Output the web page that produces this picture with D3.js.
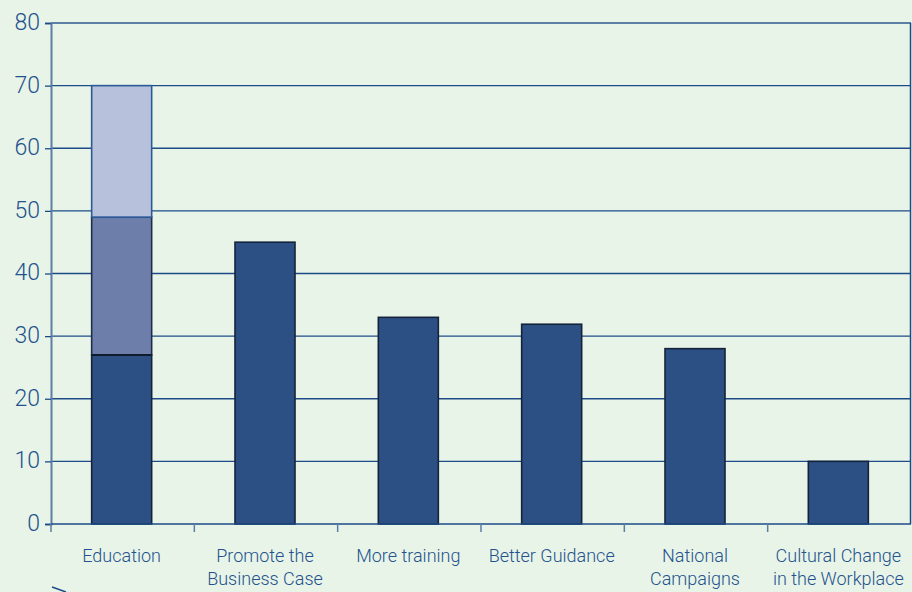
<!DOCTYPE html>
<html><head><meta charset="utf-8">
<script src="https://cdn.jsdelivr.net/npm/d3@7"></script>
<style>
html,body{margin:0;padding:0;background:#e8f4e8;}
svg{display:block;}
text{font-family:Roboto,"Liberation Sans",Arial,sans-serif;font-weight:300;fill:#24528c;}
</style></head>
<body>
<svg id="chart" width="912" height="592"></svg>
<script>
const categories = [["Education"],["Promote the","Business Case"],["More training"],["Better Guidance"],["National","Campaigns"],["Cultural Change","in the Workplace"]];
const seriesBase = [27, 45, 33, 31.9, 28, 10];
const seriesMid  = [22, 0, 0, 0, 0, 0];
const seriesTop  = [21, 0, 0, 0, 0, 0];
const yTicks = [0,10,20,30,40,50,60,70,80];

const svg = d3.select("#chart");
const m = {l:51, r:1, t:23, b:68};
const W = 912, H = 592;
const x = d3.scaleBand().domain(d3.range(categories.length)).range([m.l, W - m.r]).paddingInner(0).paddingOuter(0);
const y = d3.scaleLinear().domain([0,80]).range([H - m.b, m.t]);

// gridlines
svg.append("g").selectAll("line").data(yTicks.filter(d=>d>0)).join("line")
  .attr("x1", m.l).attr("x2", W - m.r)
  .attr("y1", d=>y(d)).attr("y2", d=>y(d))
  .attr("stroke", d=> d===80 ? "#5b7fa5" : "#1d4b88").attr("stroke-width", d=> d===80 ? 2 : 1.3);
// right border
svg.append("line").attr("x1", W-m.r-0.5).attr("x2", W-m.r-0.5).attr("y1", y(80)).attr("y2", y(0))
  .attr("stroke","#1d4b88").attr("stroke-width",1.5);

// bars
const bw = 60;
const stacks = d3.stack().keys([0,1,2]).value((d,k)=>d[k])(categories.map((c,i)=>[seriesBase[i], seriesMid[i], seriesTop[i]]));
const fills = ["#2d5084", "#6e7eab", "#b8c1dc"];
const strokes = ["#14233a", "#1e2e4a", "#2a5a98"];
stacks.forEach((layer, li) => {
  svg.append("g").selectAll("rect").data(layer.map((d,i)=>({d,i})).filter(o=>o.d[1]-o.d[0]>0)).join("rect")
    .attr("x", o => x(o.i) + x.bandwidth()/2 - bw/2 - 1)
    .attr("width", bw)
    .attr("y", o => y(o.d[1]))
    .attr("height", o => y(o.d[0]) - y(o.d[1]))
    .attr("fill", fills[li]).attr("stroke", strokes[li]).attr("stroke-width", 1.6);
});
// divider between base and mid
svg.append("g").selectAll("line").data(stacks[0].map((d,i)=>({d,i})).filter(o=>seriesMid[o.i]>0)).join("line")
  .attr("x1", o=>x(o.i)+x.bandwidth()/2-bw/2-1).attr("x2", o=>x(o.i)+x.bandwidth()/2+bw/2-1)
  .attr("y1", o=>y(o.d[1])).attr("y2", o=>y(o.d[1]))
  .attr("stroke","#0f1a2c").attr("stroke-width",2);

// y axis
const ya = svg.append("g").attr("transform", `translate(${m.l},0)`)
  .call(d3.axisLeft(y).tickValues(yTicks).tickSize(6).tickPadding(5).tickFormat(d3.format("d")));
ya.select(".domain").attr("stroke","#5b7fa5").attr("stroke-width",2);
ya.selectAll(".tick line").attr("stroke","#1d4b88").attr("stroke-width",1.3);
ya.selectAll(".tick text").attr("font-size",23).attr("fill","#24528c")
  .attr("font-family","Roboto, Liberation Sans, Arial, sans-serif").attr("font-weight",300)
  .attr("dy","0.28em");

// x axis baseline & ticks at band boundaries
svg.append("line").attr("x1", m.l).attr("x2", W-m.r).attr("y1", y(0)).attr("y2", y(0))
  .attr("stroke","#1d4b88").attr("stroke-width",1.5);
const bounds = d3.range(categories.length).map(i => x(i));
svg.append("g").selectAll("line").data(bounds).join("line")
  .attr("x1", d=>d).attr("x2", d=>d).attr("y1", y(0)).attr("y2", y(0)+8)
  .attr("stroke","#5b7fa5").attr("stroke-width",1.5);

// category labels
const lab = svg.append("g").selectAll("text").data(categories).join("text")
  .attr("text-anchor","middle").attr("font-size",18)
  .attr("x", (d,i)=> x(i) + x.bandwidth()/2 - 1)
  .attr("y", 562);
lab.selectAll("tspan").data(d=>d).join("tspan")
  .attr("x", function(){ return this.parentNode.getAttribute("x"); })
  .attr("dy", (d,j)=> j===0 ? 0 : 23)
  .text(d=>d);

// small stray mark at bottom-left
svg.append("line").attr("x1",52).attr("y1",587).attr("x2",66).attr("y2",592)
  .attr("stroke","#1d4b88").attr("stroke-width",1.5);
</script>
</body></html>
